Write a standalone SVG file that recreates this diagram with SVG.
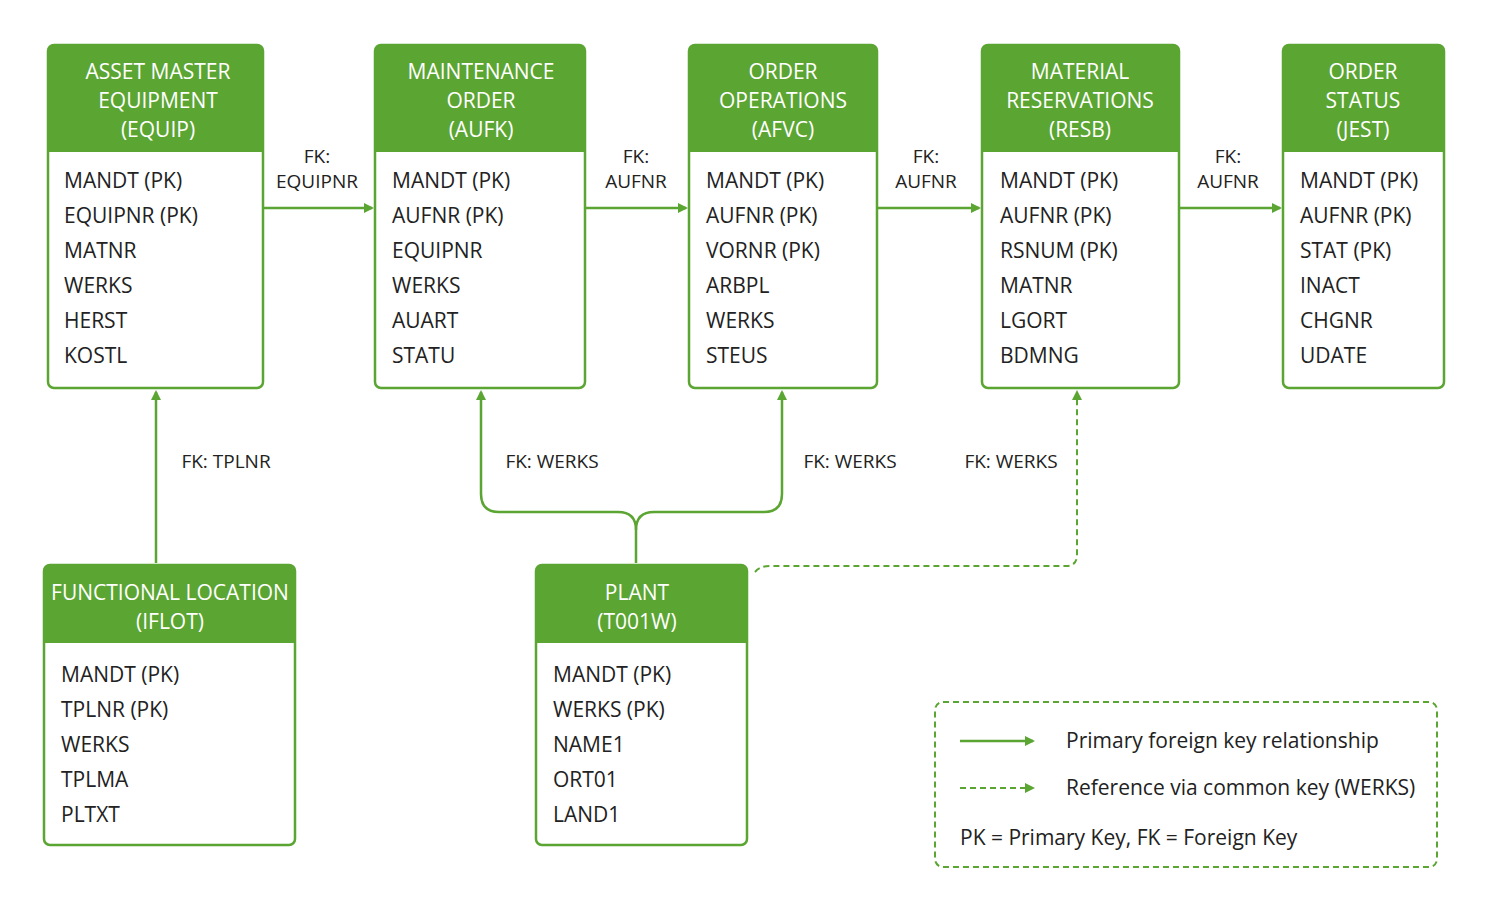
<svg xmlns="http://www.w3.org/2000/svg" width="1488" height="915" viewBox="0 0 1488 915">
<style>
.box{fill:#fff;stroke:#5ba532;stroke-width:2.5}
.hd{fill:#5ba532}
.ht{font-family:"Open Sans","Liberation Sans",sans-serif;font-size:21px;fill:#fff;text-anchor:middle}
.ft{font-family:"Open Sans","Liberation Sans",sans-serif;font-size:21px;fill:#222}
.lb{font-family:"Open Sans","Liberation Sans",sans-serif;font-size:19px;fill:#222;text-anchor:middle}
.ln{fill:none;stroke:#5ba532;stroke-width:2.5}
.dl{fill:none;stroke:#5ba532;stroke-width:2;stroke-dasharray:6 4}
</style>
<defs><marker id="ah" markerWidth="10" markerHeight="10" refX="8" refY="5" orient="auto" markerUnits="userSpaceOnUse"><path d="M0,0 L10,5 L0,10 Z" fill="#5ba532"/></marker></defs>
<rect width="1488" height="915" fill="#fff"/>
<g id="connectors">
<path class="ln" d="M264,208 H372" marker-end="url(#ah)"/>
<path class="ln" d="M586,208 H686" marker-end="url(#ah)"/>
<path class="ln" d="M878,208 H979" marker-end="url(#ah)"/>
<path class="ln" d="M1180,208 H1280" marker-end="url(#ah)"/>
<path class="ln" d="M156,563 V392" marker-end="url(#ah)"/>
<path class="ln" d="M636,563 V530 Q636,512 618,512 H499 Q481,512 481,494 V392" marker-end="url(#ah)"/>
<path class="ln" d="M636,530 Q636,512 654,512 H764 Q782,512 782,494 V392" marker-end="url(#ah)"/>
<path class="dl" d="M755,572 Q760,566 770,566 H1066 Q1077,566 1077,555 V392" marker-end="url(#ah)"/>
<text class="lb" x="317" y="163">FK:</text><text class="lb" x="317" y="188">EQUIPNR</text>
<text class="lb" x="636" y="163">FK:</text><text class="lb" x="636" y="188">AUFNR</text>
<text class="lb" x="926" y="163">FK:</text><text class="lb" x="926" y="188">AUFNR</text>
<text class="lb" x="1228" y="163">FK:</text><text class="lb" x="1228" y="188">AUFNR</text>
<text class="lb" x="226" y="468">FK: TPLNR</text>
<text class="lb" x="552" y="468">FK: WERKS</text>
<text class="lb" x="850" y="468">FK: WERKS</text>
<text class="lb" x="1011" y="468">FK: WERKS</text>
</g>
<g id="equip">
<rect class="box" x="48" y="45" width="215" height="343" rx="6"/>
<path class="hd" d="M48,51 Q48,45 54,45 H257 Q263,45 263,51 V152 H48 Z"/>
<text class="ht" x="158" y="79">ASSET MASTER</text><text class="ht" x="158" y="108">EQUIPMENT</text><text class="ht" x="158" y="137">(EQUIP)</text>
<text class="ft" x="64" y="188">MANDT (PK)</text><text class="ft" x="64" y="223">EQUIPNR (PK)</text><text class="ft" x="64" y="258">MATNR</text><text class="ft" x="64" y="293">WERKS</text><text class="ft" x="64" y="328">HERST</text><text class="ft" x="64" y="363">KOSTL</text>
</g>
<g id="aufk">
<rect class="box" x="375" y="45" width="210" height="343" rx="6"/>
<path class="hd" d="M375,51 Q375,45 381,45 H579 Q585,45 585,51 V152 H375 Z"/>
<text class="ht" x="481" y="79">MAINTENANCE</text><text class="ht" x="481" y="108">ORDER</text><text class="ht" x="481" y="137">(AUFK)</text>
<text class="ft" x="392" y="188">MANDT (PK)</text><text class="ft" x="392" y="223">AUFNR (PK)</text><text class="ft" x="392" y="258">EQUIPNR</text><text class="ft" x="392" y="293">WERKS</text><text class="ft" x="392" y="328">AUART</text><text class="ft" x="392" y="363">STATU</text>
</g>
<g id="afvc">
<rect class="box" x="689" y="45" width="188" height="343" rx="6"/>
<path class="hd" d="M689,51 Q689,45 695,45 H871 Q877,45 877,51 V152 H689 Z"/>
<text class="ht" x="783" y="79">ORDER</text><text class="ht" x="783" y="108">OPERATIONS</text><text class="ht" x="783" y="137">(AFVC)</text>
<text class="ft" x="706" y="188">MANDT (PK)</text><text class="ft" x="706" y="223">AUFNR (PK)</text><text class="ft" x="706" y="258">VORNR (PK)</text><text class="ft" x="706" y="293">ARBPL</text><text class="ft" x="706" y="328">WERKS</text><text class="ft" x="706" y="363">STEUS</text>
</g>
<g id="resb">
<rect class="box" x="982" y="45" width="197" height="343" rx="6"/>
<path class="hd" d="M982,51 Q982,45 988,45 H1173 Q1179,45 1179,51 V152 H982 Z"/>
<text class="ht" x="1080" y="79">MATERIAL</text><text class="ht" x="1080" y="108">RESERVATIONS</text><text class="ht" x="1080" y="137">(RESB)</text>
<text class="ft" x="1000" y="188">MANDT (PK)</text><text class="ft" x="1000" y="223">AUFNR (PK)</text><text class="ft" x="1000" y="258">RSNUM (PK)</text><text class="ft" x="1000" y="293">MATNR</text><text class="ft" x="1000" y="328">LGORT</text><text class="ft" x="1000" y="363">BDMNG</text>
</g>
<g id="jest">
<rect class="box" x="1283" y="45" width="161" height="343" rx="6"/>
<path class="hd" d="M1283,51 Q1283,45 1289,45 H1438 Q1444,45 1444,51 V152 H1283 Z"/>
<text class="ht" x="1363" y="79">ORDER</text><text class="ht" x="1363" y="108">STATUS</text><text class="ht" x="1363" y="137">(JEST)</text>
<text class="ft" x="1300" y="188">MANDT (PK)</text><text class="ft" x="1300" y="223">AUFNR (PK)</text><text class="ft" x="1300" y="258">STAT (PK)</text><text class="ft" x="1300" y="293">INACT</text><text class="ft" x="1300" y="328">CHGNR</text><text class="ft" x="1300" y="363">UDATE</text>
</g>
<g id="iflot">
<rect class="box" x="44" y="565" width="251" height="280" rx="6"/>
<path class="hd" d="M44,571 Q44,565 50,565 H289 Q295,565 295,571 V643 H44 Z"/>
<text class="ht" x="170" y="600">FUNCTIONAL LOCATION</text><text class="ht" x="170" y="629">(IFLOT)</text>
<text class="ft" x="61" y="682">MANDT (PK)</text><text class="ft" x="61" y="717">TPLNR (PK)</text><text class="ft" x="61" y="752">WERKS</text><text class="ft" x="61" y="787">TPLMA</text><text class="ft" x="61" y="822">PLTXT</text>
</g>
<g id="t001w">
<rect class="box" x="536" y="565" width="211" height="280" rx="6"/>
<path class="hd" d="M536,571 Q536,565 542,565 H741 Q747,565 747,571 V643 H536 Z"/>
<text class="ht" x="637" y="600">PLANT</text><text class="ht" x="637" y="629">(T001W)</text>
<text class="ft" x="553" y="682">MANDT (PK)</text><text class="ft" x="553" y="717">WERKS (PK)</text><text class="ft" x="553" y="752">NAME1</text><text class="ft" x="553" y="787">ORT01</text><text class="ft" x="553" y="822">LAND1</text>
</g>
<g id="legend">
<rect x="935" y="702" width="502" height="165" rx="8" fill="none" stroke="#5ba532" stroke-width="2" stroke-dasharray="6 4"/>
<path class="ln" d="M960,741 H1033" marker-end="url(#ah)"/>
<path class="dl" d="M960,788 H1033" marker-end="url(#ah)"/>
<text class="ft" x="1066" y="748" font-size="20">Primary foreign key relationship</text>
<text class="ft" x="1066" y="795" font-size="20">Reference via common key (WERKS)</text>
<text class="ft" x="960" y="845" font-size="20">PK = Primary Key, FK = Foreign Key</text>
</g>
</svg>
